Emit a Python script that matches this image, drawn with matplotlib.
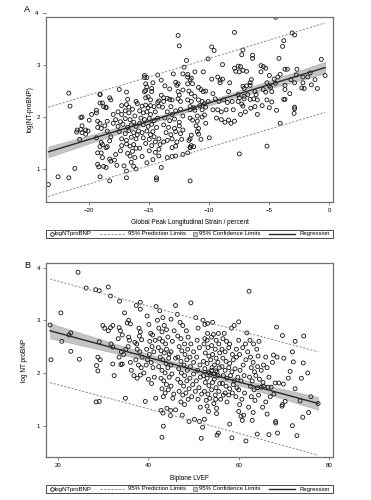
import matplotlib; matplotlib.use("Agg")
import matplotlib.pyplot as plt
from matplotlib.lines import Line2D
from matplotlib.patches import Rectangle
from matplotlib.transforms import blended_transform_factory
import numpy as np

plt.rcParams.update({"font.family": "Liberation Sans", "font.size": 4.6})
FRAME = "#707070"; DASH = "#8a8a8a"; BAND = "#c4c4c4"; LINE = "#2a2a2a"; DOT = "#1a1a1a"

# ---- panel A: global peak longitudinal strain (%) vs log(NT-proBNP) ----
gls_pts = [
    (-23.4, 0.70), (-22.6, 0.85), (-21.7, 0.83), (-21.2, 1.01), (-21.7, 2.46), (-21.6, 2.21), (-20.6, 2.00),
    (-21.05, 1.71), (-21.0, 1.75), (-20.7, 1.76), (-20.6, 1.70), (-20.3, 1.75), (-20.3, 1.67), (-20.8, 1.57),
    (-20.7, 1.99), (-20.6, 1.83), (-20.0, 1.94), (-20.1, 1.73),
    (-19.4, 2.08), (-19.4, 2.13), (-19.3, 1.92), (-19.1, 1.88), (-19.3, 1.80), (-19.0, 1.78), (-18.7, 1.83),
    (-18.5, 1.92), (-18.6, 2.18), (-18.5, 1.73), (-18.3, 1.54), (-19.0, 1.51), (-18.9, 1.47), (-18.6, 1.41),
    (-18.5, 1.43), (-19.3, 1.31), (-19.0, 1.31), (-19.1, 1.43), (-18.9, 1.22), (-18.8, 1.05), (-18.6, 1.03),
    (-19.2, 1.04), (-19.3, 1.09), (-18.3, 1.19), (-18.2, 1.15), (-17.9, 1.17), (-17.7, 1.07), (-19.1, 0.85),
    (-18.3, 0.77), (-19.1, 2.43), (-19.1, 2.27), (-18.9, 2.27), (-18.3, 2.37), (-18.2, 2.33), (-18.8, 2.20),
    (-18.6, 2.19), (-19.1, 2.44), (-19.4, 1.60), (-18.2, 1.62), (-18.0, 1.88), (-18.0, 2.05), (-19.8, 2.05),
    (-17.5, 2.53), (-16.9, 2.48), (-16.8, 2.34), (-17.3, 2.22), (-16.9, 2.24), (-16.7, 2.19), (-16.1, 2.30),
    (-16.0, 2.26), (-17.6, 2.10), (-17.3, 2.05), (-17.0, 2.12), (-16.7, 2.08), (-16.4, 2.15), (-16.2, 2.02),
    (-17.8, 1.95), (-17.4, 1.91), (-17.0, 1.97), (-16.6, 1.95), (-16.3, 1.90), (-17.6, 1.82), (-17.2, 1.86),
    (-16.8, 1.80), (-16.5, 1.85), (-16.1, 1.82), (-17.5, 1.72), (-17.0, 1.68), (-16.7, 1.74), (-16.3, 1.70),
    (-16.0, 1.66), (-17.3, 1.58), (-16.9, 1.55), (-16.5, 1.61), (-16.1, 1.58), (-17.3, 1.45), (-16.9, 1.48),
    (-16.6, 1.44), (-16.3, 1.47), (-16.1, 1.40), (-16.4, 1.34), (-16.8, 1.30), (-16.2, 1.22), (-16.5, 1.13),
    (-16.3, 1.05), (-16.1, 1.00), (-17.1, 1.06), (-16.9, 0.96), (-16.9, 0.83), (-16.6, 1.25), (-17.4, 1.35),
    (-17.8, 1.28),
    (-15.4, 2.80), (-15.4, 2.76), (-15.2, 2.76), (-15.3, 2.64), (-15.2, 2.58), (-15.4, 2.49), (-15.3, 2.51),
    (-14.8, 2.55), (-14.8, 2.49), (-14.7, 2.66), (-15.3, 2.37), (-15.1, 2.39), (-14.9, 2.33), (-15.6, 2.21),
    (-15.3, 2.23), (-15.1, 2.18), (-14.9, 2.22), (-14.6, 2.20), (-15.8, 2.12), (-15.5, 2.08), (-15.2, 2.10),
    (-14.9, 2.05), (-14.5, 2.10), (-15.7, 1.98), (-15.4, 1.95), (-15.0, 1.97), (-14.6, 1.93), (-14.3, 1.98),
    (-15.8, 1.88), (-15.5, 1.85), (-15.1, 1.82), (-14.8, 1.86), (-14.4, 1.80), (-15.9, 1.73), (-15.6, 1.70),
    (-15.2, 1.73), (-14.9, 1.66), (-14.7, 1.72), (-15.5, 1.60), (-15.0, 1.57), (-14.6, 1.62), (-14.2, 1.58),
    (-15.3, 1.49), (-14.8, 1.45), (-14.5, 1.52), (-14.1, 1.47), (-15.0, 1.35), (-14.5, 1.32), (-14.2, 1.38),
    (-14.4, 0.83), (-14.4, 0.79), (-14.0, 1.03), (-15.6, 1.24), (-15.2, 1.12), (-14.7, 1.18), (-15.8, 1.40),
    (-14.2, 1.25),
    (-14.3, 2.81), (-14.0, 2.71), (-13.7, 2.60), (-14.0, 2.42), (-13.8, 2.37), (-14.3, 2.28), (-14.2, 2.31),
    (-13.8, 2.30), (-14.2, 2.21), (-13.9, 2.19), (-13.5, 2.36), (-13.3, 2.34), (-13.1, 2.33), (-13.3, 2.54),
    (-13.0, 2.83), (-12.8, 2.67), (-12.7, 2.61), (-12.6, 2.64), (-12.6, 2.49), (-12.5, 2.42), (-12.2, 2.52),
    (-12.6, 2.35), (-12.4, 2.30), (-12.6, 3.57), (-12.5, 3.37), (-12.2, 2.83), (-12.1, 2.96), (-11.9, 3.09),
    (-11.8, 2.77), (-11.8, 2.64), (-13.2, 2.20), (-13.5, 2.10), (-13.1, 2.05), (-12.8, 2.12), (-12.4, 2.15),
    (-13.7, 1.98), (-13.3, 1.93), (-12.9, 1.96), (-12.5, 1.90), (-12.2, 2.02), (-13.8, 1.85), (-13.4, 1.80),
    (-12.9, 1.78), (-12.5, 1.83), (-12.2, 1.75), (-13.6, 1.70), (-13.2, 1.66), (-12.8, 1.72), (-12.4, 1.68),
    (-13.5, 1.55), (-13.1, 1.58), (-12.7, 1.52), (-12.3, 1.57), (-13.1, 1.41), (-12.8, 1.44), (-12.8, 1.25),
    (-13.1, 1.24), (-13.5, 1.22), (-12.2, 1.28), (-11.8, 1.31), (-11.6, 0.77), (-13.8, 1.52),
    (-11.8, 2.33), (-11.5, 2.30), (-11.8, 2.82), (-11.6, 2.72), (-11.4, 2.64), (-11.5, 2.75), (-10.9, 2.57),
    (-10.7, 2.53), (-10.5, 2.49), (-10.3, 2.50), (-11.7, 2.50), (-11.5, 2.45), (-11.2, 2.40), (-10.9, 2.33),
    (-10.6, 2.30), (-10.4, 2.26), (-11.2, 2.87), (-10.5, 2.87), (-10.1, 3.12), (-9.8, 3.35), (-9.6, 3.28),
    (-11.6, 2.20), (-11.3, 2.18), (-10.8, 2.22), (-10.3, 2.19), (-11.6, 2.14), (-11.2, 2.13), (-10.6, 2.14),
    (-11.6, 1.98), (-11.0, 2.02), (-10.6, 2.00), (-10.4, 2.04), (-11.4, 1.94), (-11.0, 1.92), (-11.1, 1.83),
    (-10.9, 1.78), (-11.0, 1.72), (-10.9, 1.67), (-11.5, 1.65), (-11.6, 1.58), (-11.7, 1.55), (-11.6, 1.41),
    (-11.5, 1.45), (-11.3, 1.43), (-11.6, 1.42), (-10.7, 1.57), (-10.0, 1.60), (-10.3, 1.88), (-10.1, 2.30),
    (-9.8, 2.73), (-9.3, 2.77), (-9.1, 2.71), (-8.9, 2.73), (-9.1, 2.66), (-8.9, 3.01), (-8.3, 2.66),
    (-8.4, 2.49), (-9.7, 2.45), (-9.5, 2.35), (-9.2, 2.30), (-8.8, 2.33), (-8.5, 2.28), (-8.1, 2.30),
    (-9.7, 2.14), (-9.3, 2.14), (-9.0, 2.10), (-8.6, 2.14), (-8.0, 2.14), (-9.4, 1.98), (-9.0, 1.95),
    (-8.7, 1.90), (-8.4, 1.94), (-8.2, 1.88), (-7.9, 1.92), (-7.9, 2.94), (-7.6, 2.98), (-7.4, 2.97),
    (-7.8, 2.88), (-7.5, 2.87), (-7.2, 2.90), (-6.9, 2.88), (-7.9, 3.63), (-7.2, 3.29), (-7.3, 3.20),
    (-7.2, 2.59), (-7.1, 2.55), (-7.6, 2.43), (-7.5, 2.37), (-7.1, 2.35), (-7.6, 2.30), (-7.3, 2.25),
    (-7.2, 2.21), (-7.1, 2.40), (-7.5, 1.29), (-7.0, 2.10), (-7.4, 2.05),
    (-6.4, 3.19), (-6.4, 3.13), (-6.8, 2.43), (-6.5, 2.72), (-6.6, 2.66), (-6.6, 2.61), (-6.9, 2.60),
    (-6.2, 2.49), (-6.1, 2.43), (-6.3, 2.35), (-6.6, 2.34), (-6.0, 2.33), (-5.7, 2.99), (-5.5, 2.97),
    (-5.3, 2.94), (-5.7, 2.87), (-5.0, 2.80), (-5.2, 2.66), (-5.0, 2.60), (-4.9, 2.57), (-4.8, 2.49),
    (-5.5, 2.53), (-5.3, 2.48), (-5.2, 2.33), (-4.8, 2.29), (-4.6, 2.73), (-4.5, 2.65), (-4.2, 3.13),
    (-4.47, 3.92), (-6.55, 2.17), (-6.2, 2.20), (-5.6, 2.22), (-5.0, 2.18), (-4.4, 2.13), (-5.2, 1.44),
    (-4.1, 1.88), (-4.1, 2.82), (-4.3, 2.77), (-6.0, 2.05),
    (-3.7, 2.92), (-3.5, 2.92), (-2.7, 2.92), (-2.75, 2.81), (-2.2, 2.77), (-1.8, 2.77), (-2.9, 2.66),
    (-2.2, 2.66), (-2.3, 2.56), (-2.1, 2.55), (-3.7, 2.61), (-3.7, 2.53), (-3.7, 2.34), (-3.8, 2.34),
    (-2.9, 2.19), (-2.9, 2.16), (-3.1, 3.62), (-2.9, 3.58), (-3.8, 3.47), (-3.9, 3.36), (-0.67, 3.11),
    (-0.36, 2.80), (-2.94, 2.07), (-1.5, 2.62), (-1.2, 2.72), (-1.0, 2.55), (-3.3, 2.45), (-3.2, 2.72),
    (-1.6, 2.85),
]

# ---- panel B: biplane LVEF vs log NT proBNP ----
lvef_pts = [
    (18.2, 2.91), (18.4, 2.25), (20.6, 3.14), (20.8, 2.60), (22.8, 2.76), (22.4, 2.72), (22.8, 2.41),
    (24.4, 3.91), (24.7, 2.26), (26.2, 3.61), (28.3, 3.58), (28.5, 2.14), (28.8, 2.04),
    (28.4, 1.45), (29.1, 1.46), (29.1, 2.59), (28.8, 2.30), (29.3, 2.25), (29.1, 3.56),
    (29.9, 2.90), (30.3, 2.85), (31.1, 2.80), (31.6, 2.86), (32.1, 2.90), (31.1, 3.63), (31.6, 3.46),
    (31.7, 2.55), (32.1, 2.49), (32.1, 2.17), (32.4, 1.95), (33.9, 2.16), (34.2, 2.17), (33.6, 3.36),
    (33.5, 2.86), (33.8, 2.80), (34.2, 2.72), (33.3, 2.65), (34.7, 3.14), (34.9, 1.52), (34.0, 2.40),
    (34.5, 2.35), (35.0, 2.45), (35.5, 2.50), (33.5, 2.30), (35.8, 2.62), (35.6, 2.68), (35.3, 2.95),
    (36.0, 2.93), (35.6, 3.00), (36.0, 2.20), (36.2, 2.05),
    (37.3, 3.28), (38.2, 3.34), (38.2, 3.21), (37.0, 2.58), (37.4, 2.55), (37.9, 2.85), (38.2, 2.78),
    (38.5, 2.63), (38.0, 2.70), (37.5, 2.45), (38.1, 2.40), (38.6, 2.30), (37.2, 2.25), (37.8, 2.15),
    (38.4, 2.10), (36.8, 1.95), (37.5, 1.90), (38.2, 1.96), (39.3, 1.46), (39.0, 2.00), (39.5, 2.15),
    (39.8, 2.25), (40.1, 2.92), (40.5, 2.75), (40.9, 2.72), (40.3, 2.60), (40.8, 2.50), (41.2, 2.40),
    (39.6, 2.45), (40.2, 2.35), (40.6, 2.20), (41.0, 2.10), (40.0, 1.88), (40.7, 1.80), (41.3, 1.92),
    (41.6, 1.52), (39.7, 3.08), (41.5, 2.62), (41.7, 3.26),
    (42.8, 1.29), (43.2, 1.24), (43.3, 0.99), (43.0, 0.78), (44.1, 1.33), (44.9, 1.29), (44.9, 1.19),
    (45.4, 1.52), (42.0, 3.00), (42.5, 3.18), (43.2, 3.05), (42.3, 2.85), (43.0, 2.78), (43.5, 2.90),
    (44.0, 2.82), (42.5, 2.65), (43.1, 2.60), (43.8, 2.55), (44.3, 2.68), (42.2, 2.48), (42.8, 2.42),
    (43.5, 2.38), (44.0, 2.45), (44.6, 2.36), (42.6, 2.30), (43.2, 2.25), (43.9, 2.18), (44.5, 2.28),
    (45.0, 2.40), (42.3, 2.12), (43.0, 2.05), (43.7, 2.00), (44.3, 2.10), (45.0, 2.15), (42.8, 1.90),
    (43.4, 1.85), (44.0, 1.78), (44.6, 1.92), (45.2, 1.98), (43.0, 1.70), (43.7, 1.62), (44.4, 1.68),
    (45.0, 1.75), (43.3, 1.55), (45.6, 1.60), (45.3, 2.60), (45.7, 2.80), (45.0, 3.02), (46.0, 2.28),
    (46.0, 3.28),
    (46.4, 3.11), (47.0, 2.96), (47.6, 2.90), (48.4, 2.80), (46.5, 2.70), (47.2, 2.65), (48.0, 2.55),
    (48.8, 2.68), (46.8, 2.50), (47.4, 2.42), (48.1, 2.35), (48.7, 2.45), (49.4, 2.55), (46.5, 2.30),
    (47.2, 2.22), (47.9, 2.15), (48.5, 2.25), (49.2, 2.30), (50.0, 2.40), (46.7, 2.08), (47.3, 2.00),
    (48.0, 1.95), (48.6, 2.05), (49.3, 2.12), (50.0, 2.20), (46.5, 1.88), (47.1, 1.82), (47.8, 1.75),
    (48.5, 1.85), (49.2, 1.90), (50.0, 1.98), (46.8, 1.65), (47.6, 1.58), (48.3, 1.62), (49.0, 1.70),
    (49.8, 1.78), (47.2, 1.45), (48.0, 1.40), (48.8, 1.50), (49.6, 1.55), (49.4, 3.33), (50.5, 3.05),
    (51.0, 2.85), (50.8, 2.62), (51.3, 2.48), (50.7, 2.30), (51.4, 2.15), (50.9, 2.05), (51.5, 1.92),
    (50.6, 1.85), (51.2, 1.72), (50.4, 1.65), (51.0, 1.50), (51.8, 1.60), (50.2, 1.12), (51.5, 1.35),
    (46.0, 1.30), (47.5, 1.20), (49.0, 1.08), (52.0, 0.97),
    (52.1, 3.00), (52.5, 2.92), (53.1, 2.94), (54.2, 2.96), (53.1, 2.75), (55.5, 2.75), (56.8, 2.75),
    (54.4, 2.73), (52.5, 2.65), (53.0, 2.62), (54.0, 2.68), (55.0, 2.62), (52.3, 2.55), (53.2, 2.48),
    (54.0, 2.52), (54.8, 2.45), (55.6, 2.55), (52.6, 2.38), (53.4, 2.32), (54.2, 2.35), (55.0, 2.28),
    (55.8, 2.38), (52.2, 2.22), (53.0, 2.18), (53.8, 2.25), (54.6, 2.15), (55.4, 2.20), (52.5, 2.08),
    (53.3, 2.02), (54.1, 2.10), (54.9, 2.04), (55.7, 2.10), (52.2, 1.95), (53.0, 1.90), (53.8, 1.97),
    (54.6, 1.88), (55.4, 1.95), (52.6, 1.82), (53.4, 1.76), (54.2, 1.82), (55.0, 1.72), (55.8, 1.80),
    (52.4, 1.65), (53.2, 1.60), (54.0, 1.68), (54.8, 1.58), (55.6, 1.65), (52.8, 1.48), (53.6, 1.52),
    (54.5, 1.42), (54.9, 1.50), (53.0, 1.37), (53.3, 1.27), (55.1, 1.33), (55.1, 1.23), (52.4, 1.12),
    (55.2, 0.82), (55.5, 0.86), (51.7, 0.76), (51.3, 1.08), (54.0, 2.05), (53.5, 2.00), (54.5, 1.98),
    (55.2, 2.02),
    (56.0, 1.50), (56.6, 1.58), (57.4, 1.45), (58.4, 2.85), (56.5, 2.65), (57.3, 2.60), (58.0, 2.55),
    (56.3, 2.45), (57.0, 2.40), (57.8, 2.48), (58.6, 2.35), (56.5, 2.28), (57.2, 2.22), (58.0, 2.18),
    (58.8, 2.25), (59.5, 2.30), (56.3, 2.12), (57.0, 2.05), (57.8, 2.10), (58.5, 2.02), (59.2, 2.08),
    (56.6, 1.95), (57.4, 1.90), (58.2, 1.95), (59.0, 1.85), (59.8, 1.92), (56.4, 1.80), (57.2, 1.75),
    (58.0, 1.70), (58.8, 1.78), (59.6, 1.72), (57.0, 1.62), (57.8, 1.58), (58.6, 1.62), (59.4, 1.55),
    (58.0, 1.03), (58.5, 0.77), (60.0, 1.27), (60.5, 1.18), (60.8, 1.10), (61.1, 1.20), (61.6, 0.71),
    (60.2, 1.40), (60.7, 1.50), (61.3, 1.62), (60.0, 1.68), (60.5, 1.85), (61.2, 1.95), (60.3, 2.05),
    (61.0, 2.15), (61.6, 2.25), (60.2, 2.35), (60.9, 2.48), (61.5, 2.55), (61.8, 2.76), (62.3, 3.55),
    (60.0, 2.62), (59.5, 2.45), (62.0, 2.40), (60.0, 2.97), (59.0, 2.90),
    (62.5, 2.62), (63.3, 2.55), (64.0, 2.45), (62.6, 2.30), (63.2, 2.20), (64.3, 2.32), (62.8, 2.10),
    (63.5, 2.02), (64.2, 2.12), (65.0, 2.05), (62.4, 1.92), (63.0, 1.85), (63.8, 1.95), (64.6, 1.88),
    (65.4, 1.82), (62.6, 1.75), (63.4, 1.68), (64.2, 1.72), (62.8, 1.55), (63.6, 1.48), (64.4, 1.58),
    (62.2, 1.35), (63.2, 1.25), (64.1, 0.84), (63.0, 1.10), (65.5, 1.75), (65.0, 1.73), (66.5, 1.73),
    (67.2, 1.73), (66.7, 1.92), (68.1, 1.81), (68.9, 1.81), (69.9, 1.79), (65.5, 2.15), (66.3, 2.10),
    (67.5, 2.20), (66.0, 2.30), (67.7, 2.34), (68.5, 2.30), (70.0, 2.28), (68.4, 2.87), (69.7, 2.71),
    (66.7, 0.83), (68.6, 0.86), (68.2, 1.05), (68.2, 1.08), (69.6, 1.37), (69.7, 1.40), (70.3, 1.46),
    (66.0, 1.45), (67.0, 1.55), (65.3, 1.35), (66.3, 1.22), (67.8, 1.60), (64.5, 2.60),
    (71.4, 2.03), (72.1, 2.21), (74.3, 2.19), (73.9, 1.90), (71.9, 2.40), (72.5, 2.60), (74.4, 2.70),
    (71.9, 1.00), (72.9, 0.81), (74.2, 1.16), (73.6, 1.47), (77.6, 1.42), (72.5, 1.70), (75.3, 2.00),
    (76.0, 1.55), (71.0, 1.90), (75.5, 1.25),
]

# fitted line as printed (intercept, slope, root-mse)
gls_fit = (2.977, 0.0704, 0.434)
lvef_fit = (3.222, -0.0232, 0.495)

gls_x, gls_y = np.array(gls_pts).T
lvef_x, lvef_y = np.array(lvef_pts).T

PANELS = [
    dict(x=gls_x, y=gls_y, fit=gls_fit, letter="A", rect=[46, 17.3, 333, 201.7], xlim=(-23.6, 0.3),
         ylim=(0.37, 3.92), xticks=[-20, -15, -10, -5, 0], ylab_px=34, leg_px=229.7,
         xlabel="Global Peak Longitudinal Strain / percent", ylabel="log(NT-proBNP)", letter_px=(27, 10)),
    dict(x=lvef_x, y=lvef_y, fit=lvef_fit, letter="B", rect=[46, 263.3, 333, 457.3], xlim=(17.3, 80.9),
         ylim=(0.40, 4.08), xticks=[20, 40, 60, 80], ylab_px=28, leg_px=485,
         xlabel="Biplane LVEF", ylabel="log NT proBNP", letter_px=(27, 265)),
]
LEG_LABELS = ["logNTproBNP", "95% Prediction Limits", "95% Confidence Limits", "Regression"]

W, H = 371, 500
fig = plt.figure(figsize=(W / 100, H / 100), dpi=100)
fx = lambda px: px / W
fy = lambda py: 1 - py / H

def bands(x, b0, b1, s):
    n = len(x); xs = np.linspace(x.min(), x.max(), 100); xm = x.mean(); sxx = ((x - xm) ** 2).sum()
    fit = b0 + b1 * xs; t = 1.966
    se_m = s * np.sqrt(1 / n + (xs - xm) ** 2 / sxx); se_p = s * np.sqrt(1 + 1 / n + (xs - xm) ** 2 / sxx)
    return xs, fit, fit - t * se_m, fit + t * se_m, fit - t * se_p, fit + t * se_p

def draw_legend(top):
    h = 8; yc = fy(top + h / 2); tf = fig.transFigure
    fig.add_artist(Rectangle((fx(46), fy(top + h)), fx(333) - fx(46), h / H, transform=tf,
                             fill=False, ec="#303030", lw=0.6))
    fig.add_artist(Line2D([fx(51.5)], [yc], transform=tf, ls="none", marker="o", ms=2.6,
                          mfc="none", mec=DOT, mew=0.6))
    fig.add_artist(Line2D([fx(100), fx(124)], [yc, yc], transform=tf, color=DASH, lw=0.7, ls=(0, (2.2, 1.6))))
    fig.add_artist(Rectangle((fx(193), yc - 2 / H), 4 / W, 4 / H, transform=tf, fc=BAND, ec="#505050", lw=0.4))
    fig.add_artist(Line2D([fx(269), fx(295)], [yc, yc], transform=tf, color=LINE, lw=1.0))
    for px, lab, ha in [(55, LEG_LABELS[0], "left"), (127.5, LEG_LABELS[1], "left"),
                        (199, LEG_LABELS[2], "left"), (330.5, LEG_LABELS[3], "right")]:
        fig.text(fx(px), yc, lab, ha=ha, va="center", fontsize=4.35)

for p in PANELS:
    l, t, r, b = p["rect"]
    ax = fig.add_axes([l / W, 1 - b / H, (r - l) / W, (b - t) / H])
    xs, fit, clo, chi, plo, phi = bands(p["x"], *p["fit"])
    ax.fill_between(xs, clo, chi, color=BAND, ec="#a8a8a8", lw=0.4, zorder=1)
    ax.scatter(p["x"], p["y"], s=8, facecolor="none", edgecolor=DOT, linewidth=0.62, zorder=2)
    ax.plot(xs, plo, color=DASH, lw=0.7, ls=(0, (2.2, 1.6)), zorder=3)
    ax.plot(xs, phi, color=DASH, lw=0.7, ls=(0, (2.2, 1.6)), zorder=3)
    ax.plot(xs, fit, color=LINE, lw=1.0, zorder=4)
    ax.set_xlim(*p["xlim"]); ax.set_ylim(*p["ylim"])
    ax.set_xticks(p["xticks"]); ax.set_yticks([v for v in [1, 2, 3, 4] if v <= p["ylim"][1]])
    for sp in ax.spines.values():
        sp.set_color(FRAME); sp.set_linewidth(0.9)
    ax.tick_params(length=2.2, width=0.6, color=FRAME, labelsize=4.4, pad=2)
    if p["ylim"][1] < 4:   # SAS prints the 4 tick just above the frame
        tr = blended_transform_factory(ax.transAxes, ax.transData)
        ax.plot([-2.2 / 72 * 100 / (r - l), 0], [4, 4], color=FRAME, lw=0.6, transform=tr, clip_on=False)
        ax.text(-0.025, 4, "4", transform=tr, ha="right", va="center", fontsize=4.4)
    ax.set_xlabel(p["xlabel"], fontsize=4.7)
    ax.set_ylabel(p["ylabel"], fontsize=4.7)
    ax.xaxis.set_label_coords(0.5, -17.5 / (b - t))
    ax.yaxis.set_label_coords((p["ylab_px"] - l) / (r - l), 0.5)
    fig.text(fx(p["letter_px"][0]), fy(p["letter_px"][1]), p["letter"], fontsize=6.5, ha="center", va="center")
    draw_legend(p["leg_px"])

fig.savefig("out.png", dpi=100)
